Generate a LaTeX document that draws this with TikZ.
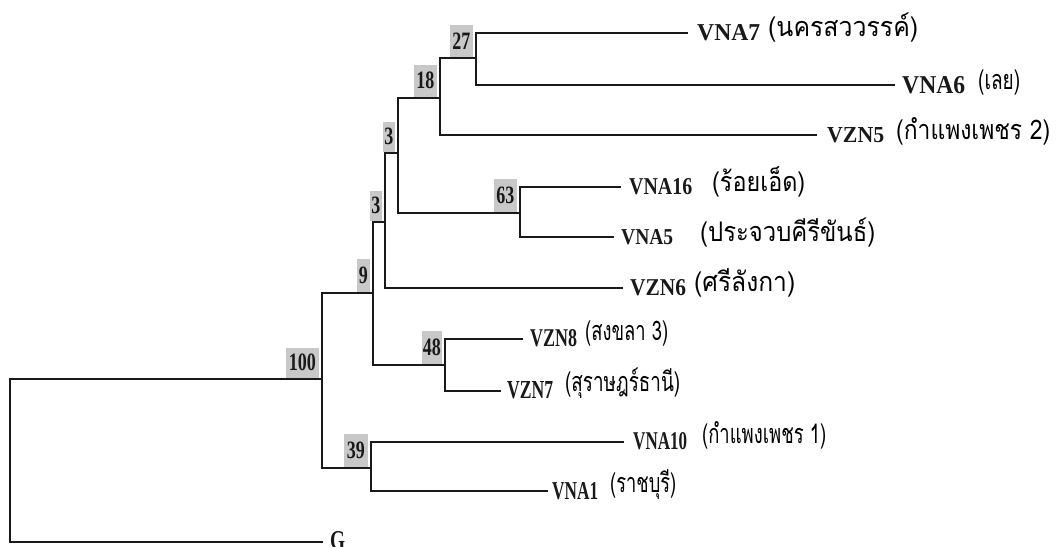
\documentclass[tikz,border=0pt]{standalone}
\usepackage{fontspec}
\setmainfont{Liberation Serif}
\newfontfamily\thaifont[Script=Thai]{Loma}
\usepackage{graphicx}
\definecolor{boxgray}{RGB}{200,200,200}
\definecolor{ink}{RGB}{25,25,25}
\newcommand{\bsb}[1]{\scalebox{0.72}[1]{\fontsize{25}{25}\selectfont\bfseries #1}}
\newcommand{\lb}[3]{\resizebox{#1pt}{#2pt}{\bfseries #3}}
\newcommand{\tb}[2]{\resizebox{#1pt}{\height}{#2}}
\tikzset{
  br/.style={line width=2pt, draw=ink, line cap=rect, line join=miter},
  bs/.style={fill=boxgray, inner sep=0pt, anchor=south east, xshift=-3pt, yshift=1pt, text=ink},
  lbl/.style={anchor=base west, inner sep=0pt, text=ink},
  th/.style={anchor=base west, inner sep=0pt, text=black, font=\thaifont\fontsize{27}{27}\selectfont},
}
\begin{document}
\begin{tikzpicture}[x=1pt,y=-1pt]
\useasboundingbox (0,0) rectangle (1056,546);
\clip (0,0) rectangle (1056,546);
% internal nodes
\coordinate (root) at (10,379);
\coordinate (n100) at (322,379);
\coordinate (n9) at (373,293);
\coordinate (n3b) at (385,222);
\coordinate (n3a) at (398,153);
\coordinate (n18) at (440,98);
\coordinate (n27) at (476,58);
\coordinate (n63) at (520,213);
\coordinate (n48) at (445,365);
\coordinate (n39) at (371,468);
% leaf ends
\coordinate (eVNA7) at (687,33);
\coordinate (eVNA6) at (894,85);
\coordinate (eVZN5) at (816,135);
\coordinate (eVNA16) at (620,187);
\coordinate (eVNA5) at (613,237);
\coordinate (eVZN6) at (622,288);
\coordinate (eVZN8) at (522,339);
\coordinate (eVZN7) at (500,391);
\coordinate (eVNA10) at (623,442);
\coordinate (eVNA1) at (547,491);
\coordinate (eG) at (322,542);
% branches
\draw[br] (n100) -- (root) |- (eG);
\draw[br] (n9) -| (n100) |- (n39);
\draw[br] (n3b) -| (n9) |- (n48);
\draw[br] (n3a) -| (n3b) |- (eVZN6);
\draw[br] (n18) -| (n3a) |- (n63);
\draw[br] (n27) -| (n18) |- (eVZN5);
\draw[br] (eVNA7) -| (n27) |- (eVNA6);
\draw[br] (eVNA16) -| (n63) |- (eVNA5);
\draw[br] (eVZN8) -| (n48) |- (eVZN7);
\draw[br] (eVNA10) -| (n39) |- (eVNA1);
% bootstrap boxes
\node[bs, minimum width=23pt, minimum height=32pt] (b27) at (n27) {\bsb{27}};
\node[bs, minimum width=23pt, minimum height=32pt] (b18) at (n18) {\bsb{18}};
\node[bs, minimum width=12pt, minimum height=30pt] (b3a) at (n3a) {\bsb{3}};
\node[bs, minimum width=12pt, minimum height=30pt] (b3b) at (n3b) {\bsb{3}};
\node[bs, minimum width=13pt, minimum height=33pt] (b9) at (n9) {\bsb{9}};
\node[bs, minimum width=23pt, minimum height=33pt] (b63) at (n63) {\bsb{63}};
\node[bs, minimum width=20pt, minimum height=33pt] (b48) at (n48) {\bsb{48}};
\node[bs, minimum width=33pt, minimum height=30pt] (b100) at (n100) {\bsb{100}};
\node[bs, minimum width=24pt, minimum height=33pt] (b39) at (n39) {\bsb{39}};
% leaf labels
\node[lbl] (VNA7) at (697,40) {\lb{63}{16}{VNA7}};
\node[lbl] (VNA6) at (902,93) {\lb{63}{17}{VNA6}};
\node[lbl] (VZN5) at (827,142) {\lb{57}{15}{VZN5}};
\node[lbl] (VNA16) at (629,194) {\lb{63}{16}{VNA16}};
\node[lbl] (VNA5) at (621,244) {\lb{52}{15}{VNA5}};
\node[lbl] (VZN6) at (630,295) {\lb{56}{16}{VZN6}};
\node[lbl] (VZN8) at (530,346) {\lb{47}{17}{VZN8}};
\node[lbl] (VZN7) at (507,398) {\lb{46}{17}{VZN7}};
\node[lbl] (VNA10) at (633,449) {\lb{54}{17}{VNA10}};
\node[lbl] (VNA1) at (552,499) {\lb{46}{17}{VNA1}};
\node[lbl] (G) at (330,549) {\lb{15}{18}{G}};
% Thai place names
\node[th] (tVNA7) at (768,36) {\tb{150}{(นครสววรรค์)}};
\node[th] (tVNA6) at (978,89) {\tb{42}{(เลย)}};
\node[th] (tVZN5) at (896,139) {\tb{154}{(กำแพงเพชร 2)}};
\node[th] (tVNA16) at (712,191) {\tb{93}{(ร้อยเอ็ด)}};
\node[th] (tVNA5) at (700,241) {\tb{175}{(ประจวบคีรีขันธ์)}};
\node[th] (tVZN6) at (694,291) {\tb{101}{(ศรีลังกา)}};
\node[th] (tVZN8) at (585,340) {\tb{83}{(สงขลา 3)}};
\node[th] (tVZN7) at (565,391) {\tb{115}{(สุราษฎร์ธานี)}};
\node[th] (tVNA10) at (702,443) {\tb{124}{(กำแพงเพชร 1)}};
\node[th] (tVNA1) at (610,492) {\tb{66}{(ราชบุรี)}};
\end{tikzpicture}
\end{document}
